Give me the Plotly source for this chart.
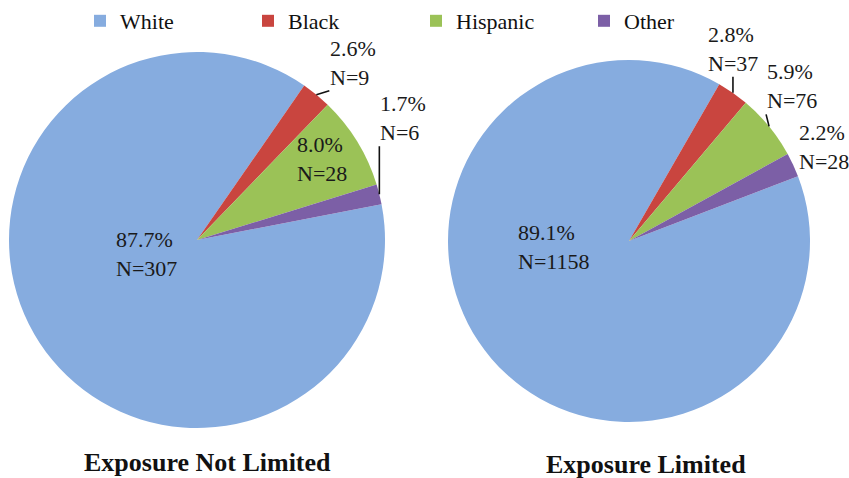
import math
import plotly.graph_objects as go

# ---------------- data ----------------
categories = ["White", "Black", "Hispanic", "Other"]
not_limited_n = [307, 9, 28, 6]
limited_n = [1158, 37, 76, 28]
titles = ["Exposure Not Limited", "Exposure Limited"]

# ---------------- style ----------------
colors = ["#86ACDF", "#C9453F", "#9BC257", "#7C5FA6"]
W, H = 849, 478
FONT = "Liberation Serif, Times New Roman, serif"
LABEL_SIZE = 22

# pie geometry in pixels: centre, radius, rotation of first slice (clockwise from 12 o'clock)
geom = [
    dict(cx=197, cy=240, r=188, rot=79, tx=207, ty=462),
    dict(cx=629, cy=241, r=181, rot=69, tx=646, ty=464),
]

# label placement per slice (style only)
label_style = [
    [
        dict(mode="offset", dx=-51, dy=14),
        dict(mode="leader", ax=13, ay=-4, xanchor="left", yanchor="bottom"),
        dict(mode="frac", f=0.78, dx=0, dy=-4),
        dict(mode="leader", ax=0, ay=-48, xanchor="left", yanchor="bottom"),
    ],
    [
        dict(mode="offset", dx=-76, dy=6),
        dict(mode="leader", ax=0, ay=-16, xanchor="center", yanchor="bottom"),
        dict(mode="leader", ax=-3, ay=-12, xanchor="left", yanchor="bottom"),
        dict(mode="rim", dx=4, dy=-18),
    ],
]


def px2paper(x, y):
    return x / W, 1 - y / H


fig = go.Figure()
annotations = []

for values, g, styles, title in zip([not_limited_n, limited_n], geom, label_style, titles):
    cx, cy, r = g["cx"], g["cy"], g["r"]
    x0, y0 = px2paper(cx - r, cy + r)
    x1, y1 = px2paper(cx + r, cy - r)
    fig.add_trace(go.Pie(
        labels=categories,
        values=values,
        sort=False,
        direction="clockwise",
        rotation=g["rot"],
        marker=dict(colors=colors, line=dict(width=0)),
        textinfo="none",
        hoverinfo="label+value+percent",
        domain=dict(x=[x0, x1], y=[y0, y1]),
        showlegend=True,
    ))

    total = sum(values)
    cum = 0
    for v, st in zip(values, styles):
        pct = 100.0 * v / total
        text = f"{pct:.1f}%<br>N={v}"
        mid = g["rot"] + 360.0 * (cum + v / 2) / total
        cum += v
        a = math.radians(mid)
        rim_x = cx + r * math.sin(a)
        rim_y = cy - r * math.cos(a)
        font = dict(family=FONT, size=LABEL_SIZE, color="#1a1a1a")
        if st["mode"] == "leader":
            px, py = px2paper(rim_x, rim_y)
            annotations.append(dict(
                x=px, y=py, xref="paper", yref="paper", text=text, showarrow=True,
                ax=st["ax"], ay=st["ay"], arrowhead=0, arrowwidth=1.6, arrowcolor="#111",
                standoff=0, xanchor=st["xanchor"], yanchor=st["yanchor"], align="left",
                font=font, borderpad=0))
        else:
            if st["mode"] == "offset":
                lx, ly = cx + st["dx"], cy + st["dy"]
                xa, ya = "center", "middle"
            elif st["mode"] == "frac":
                lx = cx + st["f"] * r * math.sin(a) + st["dx"]
                ly = cy - st["f"] * r * math.cos(a) + st["dy"]
                xa, ya = "center", "middle"
            else:  # rim
                lx, ly = rim_x + st["dx"], rim_y + st["dy"]
                xa, ya = "left", "middle"
            px, py = px2paper(lx, ly)
            annotations.append(dict(
                x=px, y=py, xref="paper", yref="paper", text=text, showarrow=False,
                xanchor=xa, yanchor=ya, align="left", font=font))

    tx, ty = px2paper(g["tx"], g["ty"])
    annotations.append(dict(
        x=tx, y=ty, xref="paper", yref="paper", text=f"<b>{title}</b>", showarrow=False,
        xanchor="center", yanchor="middle", borderpad=0,
        font=dict(family=FONT, size=26, color="#111")))

fig.update_layout(
    width=W, height=H,
    margin=dict(l=0, r=0, t=0, b=0),
    paper_bgcolor="white",
    plot_bgcolor="white",
    annotations=annotations,
    legend=dict(
        orientation="h",
        x=80 / W, xanchor="left",
        y=1.0, yanchor="top",
        font=dict(family=FONT, size=22, color="#111"),
        entrywidth=123, entrywidthmode="pixels",
        bgcolor="rgba(0,0,0,0)",
        traceorder="normal",
    ),
)

fig.write_html(
    "out.html",
    config={"displayModeBar": False},
    post_script="document.body.style.margin='0';document.body.style.overflow='hidden';",
)
